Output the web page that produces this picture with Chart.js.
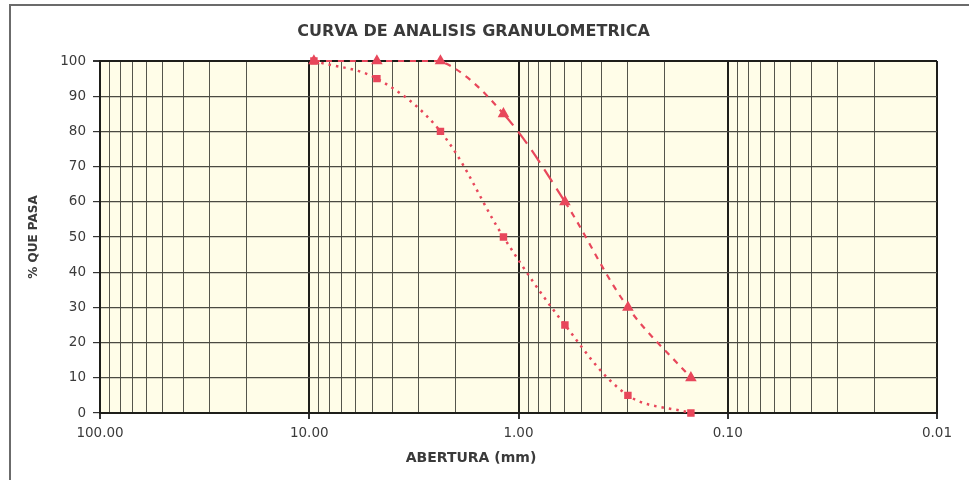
<!DOCTYPE html>
<html>
<head>
<meta charset="utf-8">
<script src="https://cdn.jsdelivr.net/npm/chart.js@4.4.1/dist/chart.umd.min.js"></script>
<style>
  html, body { margin: 0; padding: 0; background: #fff; }
  #wrap { width: 969px; height: 480px; }
</style>
</head>
<body>
<div id="wrap"><canvas id="chart" width="969" height="480"></canvas></div>
<script>
const sieveSizes = [9.5, 4.75, 2.36, 1.18, 0.6, 0.3, 0.15];
const upperLimit = [100, 100, 100, 85, 60, 30, 10];
const lowerLimit = [100, 95, 80, 50, 25, 5, 0];
const xTickValues = [];
[10, 1, 0.1, 0.01].forEach(d => {
  for (let m = 1; m <= 9; m++) xTickValues.push(+(d * m).toPrecision(3));
});
xTickValues.push(100);

const red = "#e8475b";
const font = "DejaVu Sans, Verdana, sans-serif";

function isDecade(v) {
  return [100, 10, 1, 0.1, 0.01].some(d => Math.abs(v - d) < 1e-9);
}

const framePlugin = {
  id: "frame",
  beforeDraw(chart) {
    const { ctx, chartArea } = chart;
    ctx.save();
    ctx.fillStyle = "#fffde8";
    ctx.fillRect(chartArea.left, chartArea.top, chartArea.right - chartArea.left, chartArea.bottom - chartArea.top);
    ctx.strokeStyle = "#6b6b6b";
    ctx.lineWidth = 2;
    ctx.beginPath();
    ctx.moveTo(10, 480);
    ctx.lineTo(10, 5);
    ctx.lineTo(969, 5);
    ctx.stroke();
    ctx.restore();
  },
  afterDraw(chart) {
    // x axis title sits left of centre in the original sheet
    const { ctx } = chart;
    ctx.save();
    ctx.fillStyle = "#3a3a3a";
    ctx.font = "bold 14px " + font;
    ctx.textAlign = "center";
    ctx.textBaseline = "middle";
    ctx.fillText("ABERTURA (mm)", 471, 458);
    ctx.restore();
  }
};

new Chart(document.getElementById("chart"), {
  type: "line",
  data: {
    datasets: [
      {
        label: "Limite superior",
        data: sieveSizes.map((s, i) => ({ x: s, y: upperLimit[i] })),
        borderColor: red,
        backgroundColor: red,
        borderWidth: 2.2,
        segment: {
          borderDash: ctx => (ctx.p0DataIndex === 3 ? [15, 8] : [6, 6])
        },
        pointStyle: "triangle",
        pointRadius: 4.5,
        tension: 0.35,
        clip: false
      },
      {
        label: "Limite inferior",
        data: sieveSizes.map((s, i) => ({ x: s, y: lowerLimit[i] })),
        borderColor: red,
        backgroundColor: red,
        borderWidth: 2.5,
        borderDash: [2.5, 5],
        pointStyle: "rect",
        pointRadius: 3.5,
        tension: 0.35,
        clip: false
      }
    ]
  },
  options: {
    responsive: false,
    animation: false,
    layout: { padding: { left: 10, right: 32, top: 0, bottom: 0 } },
    plugins: {
      legend: { display: false },
      tooltip: { enabled: false },
      title: {
        display: true,
        text: "CURVA DE ANALISIS GRANULOMETRICA",
        color: "#3a3a3a",
        font: { family: font, size: 16, weight: "bold", lineHeight: 1.2 },
        padding: { top: 22, bottom: 19.8 }
      }
    },
    scales: {
      x: {
        type: "logarithmic",
        reverse: true,
        min: 0.01,
        max: 100,
        afterBuildTicks: scale => {
          scale.ticks = xTickValues.map(v => ({ value: v }));
        },
        afterFit: scale => { scale.height = 67; },
        ticks: {
          autoSkip: false,
          maxRotation: 0,
          padding: 6,
          color: "#3a3a3a",
          font: { family: font, size: 13.5 },
          callback: v => (isDecade(v) ? v.toFixed(2) : "")
        },
        grid: {
          color: ctx => (isDecade(ctx.tick.value) ? "#1e1e1a" : "#55554c"),
          lineWidth: ctx => (isDecade(ctx.tick.value) ? 2 : 1),
          tickLength: 6,
          tickColor: ctx => (isDecade(ctx.tick.value) ? "#333" : "rgba(0,0,0,0)")
        },
        border: { color: "#1e1e1a", width: 2 }
      },
      y: {
        min: 0,
        max: 100,
        afterFit: scale => { scale.width = 90; },
        ticks: {
          stepSize: 10,
          padding: 7,
          color: "#3a3a3a",
          font: { family: font, size: 13.5 }
        },
        grid: {
          color: ctx => (ctx.tick.value === 100 ? "#1e1e1a" : "#4a4a42"),
          lineWidth: ctx => (ctx.tick.value === 100 ? 2 : 1.2),
          tickLength: 7,
          tickColor: "#333"
        },
        border: { color: "#1e1e1a", width: 2 },
        title: {
          display: true,
          text: "% QUE PASA",
          color: "#3a3a3a",
          font: { family: font, size: 12, weight: "bold" },
          padding: { top: 17, bottom: 0 }
        }
      }
    }
  },
  plugins: [framePlugin]
});
</script>
</body>
</html>
